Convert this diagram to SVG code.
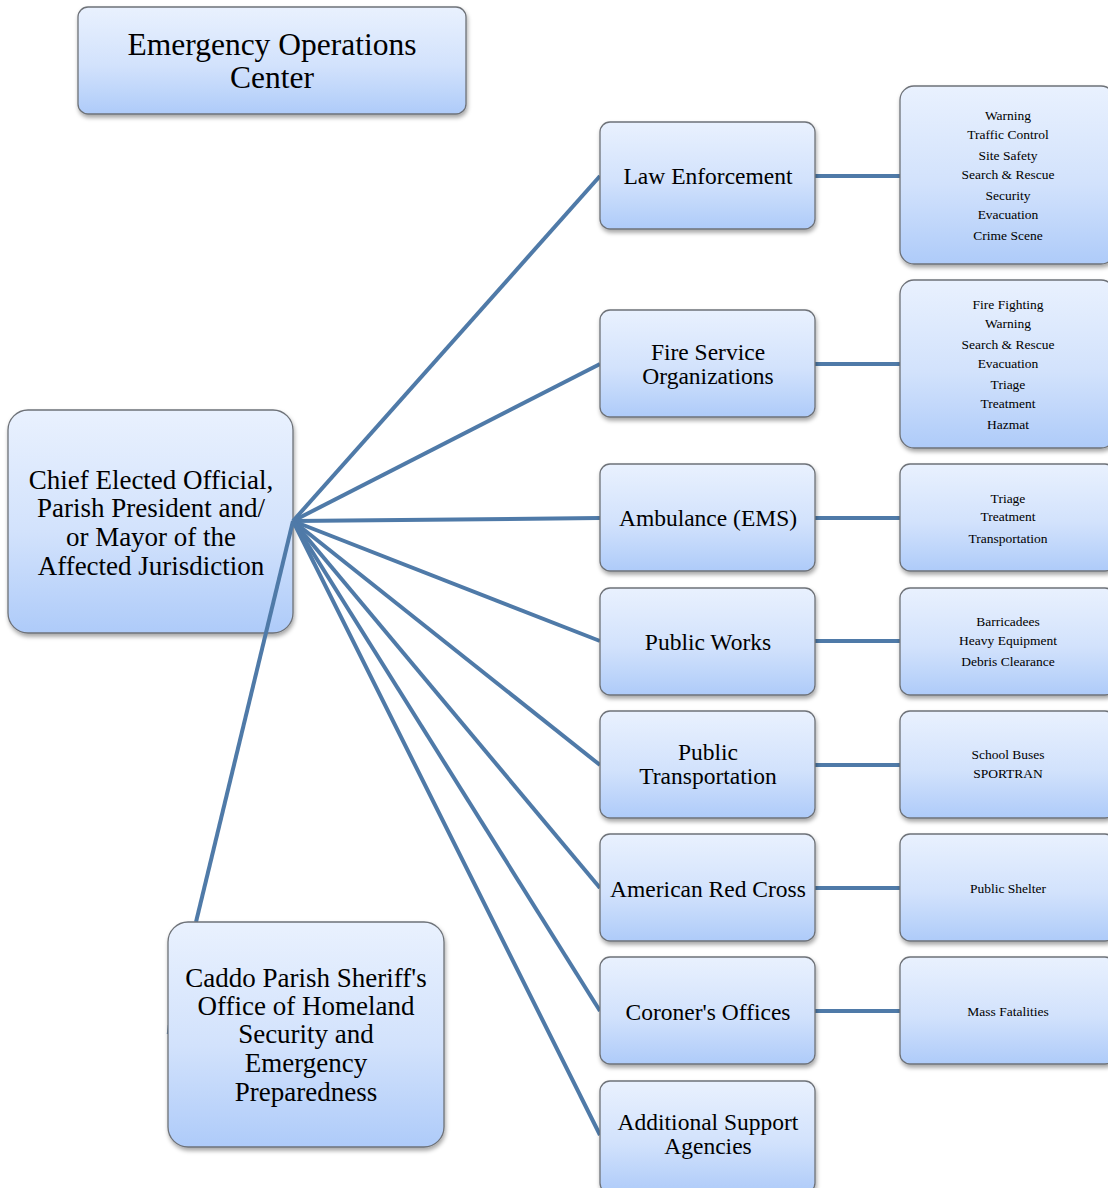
<svg xmlns="http://www.w3.org/2000/svg" width="1108" height="1188" viewBox="0 0 1108 1188">
  <defs>
    <linearGradient id="boxFill" x1="0" y1="0" x2="0" y2="1">
      <stop offset="0" stop-color="#e9f1fe"/>
      <stop offset="0.55" stop-color="#d2e2fc"/>
      <stop offset="1" stop-color="#aecbf9"/>
    </linearGradient>
    <filter id="shadow" x="-10%" y="-10%" width="125%" height="130%">
      <feDropShadow dx="1" dy="3" stdDeviation="2" flood-color="#000" flood-opacity="0.35"/>
    </filter>
  </defs>
  <style>
    .box { fill: url(#boxFill); stroke: #6e7278; stroke-width: 1.3; filter: url(#shadow); }
    .link { stroke: #4f7aa8; stroke-width: 4; fill: none; stroke-linecap: butt; }
    text { font-family: "Liberation Serif", "Times New Roman", serif; fill: #000; text-anchor: middle; }
    .t-eoc { font-size: 31.5px; }
    .t-big { font-size: 27px; }
    .t-mid { font-size: 23.5px; }
    .t-sm { font-size: 13.5px; }
  </style>

  <rect width="1108" height="1188" fill="#ffffff"/>

  <!-- the chief box sits under the spokes that leave its right edge -->
  <g id="chief-elected">
    <rect class="box" x="8" y="410" width="285" height="223" rx="20"/>
    <text class="t-big" x="151" y="489">Chief Elected Official,</text>
    <text class="t-big" x="151" y="517">Parish President and/</text>
    <text class="t-big" x="151" y="546">or Mayor of the</text>
    <text class="t-big" x="151" y="575">Affected Jurisdiction</text>
  </g>

  <!-- connectors -->
  <g id="connectors">
    <line class="link" x1="293" y1="521" x2="600" y2="176"/>
    <line class="link" x1="293" y1="521" x2="600" y2="364"/>
    <line class="link" x1="293" y1="521" x2="600" y2="518"/>
    <line class="link" x1="293" y1="521" x2="600" y2="641"/>
    <line class="link" x1="293" y1="521" x2="600" y2="765"/>
    <line class="link" x1="293" y1="521" x2="600" y2="888"/>
    <line class="link" x1="293" y1="521" x2="600" y2="1011"/>
    <line class="link" x1="293" y1="521" x2="600" y2="1135"/>
    <line class="link" x1="293" y1="521" x2="196" y2="922"/>
    <line class="link" x1="167.5" y1="1034" x2="168.5" y2="1025" style="stroke-width:1.5"/>
    <line class="link" x1="815" y1="176" x2="900" y2="176"/>
    <line class="link" x1="815" y1="364" x2="900" y2="364"/>
    <line class="link" x1="815" y1="518" x2="900" y2="518"/>
    <line class="link" x1="815" y1="641" x2="900" y2="641"/>
    <line class="link" x1="815" y1="765" x2="900" y2="765"/>
    <line class="link" x1="815" y1="888" x2="900" y2="888"/>
    <line class="link" x1="815" y1="1011" x2="900" y2="1011"/>
  </g>

  <!-- top-level nodes -->
  <g id="eoc">
    <rect class="box" x="78" y="7" width="388" height="107" rx="10"/>
    <text class="t-eoc" x="272" y="55">Emergency Operations</text>
    <text class="t-eoc" x="272" y="87.5">Center</text>
  </g>

  <g id="caddo-ohsep">
    <rect class="box" x="168" y="922" width="276" height="225" rx="20"/>
    <text class="t-big" x="306" y="987">Caddo Parish Sheriff's</text>
    <text class="t-big" x="306" y="1014.5">Office of Homeland</text>
    <text class="t-big" x="306" y="1043">Security and</text>
    <text class="t-big" x="306" y="1072">Emergency</text>
    <text class="t-big" x="306" y="1101">Preparedness</text>
  </g>

  <!-- agencies -->
  <g id="law-enforcement">
    <rect class="box" x="600" y="122" width="215" height="107" rx="10"/>
    <text class="t-mid" x="708" y="184">Law Enforcement</text>
  </g>
  <g id="fire-service">
    <rect class="box" x="600" y="310" width="215" height="107" rx="10"/>
    <text class="t-mid" x="708" y="359.5">Fire Service</text>
    <text class="t-mid" x="708" y="384">Organizations</text>
  </g>
  <g id="ambulance">
    <rect class="box" x="600" y="464" width="215" height="107" rx="10"/>
    <text class="t-mid" x="708" y="526">Ambulance (EMS)</text>
  </g>
  <g id="public-works">
    <rect class="box" x="600" y="588" width="215" height="107" rx="10"/>
    <text class="t-mid" x="708" y="650">Public Works</text>
  </g>
  <g id="public-transportation">
    <rect class="box" x="600" y="711" width="215" height="107" rx="10"/>
    <text class="t-mid" x="708" y="759.5">Public</text>
    <text class="t-mid" x="708" y="784">Transportation</text>
  </g>
  <g id="red-cross">
    <rect class="box" x="600" y="834" width="215" height="107" rx="10"/>
    <text class="t-mid" x="708" y="897">American Red Cross</text>
  </g>
  <g id="coroner">
    <rect class="box" x="600" y="957" width="215" height="107" rx="10"/>
    <text class="t-mid" x="708" y="1020">Coroner's Offices</text>
  </g>
  <g id="additional-support">
    <rect class="box" x="600" y="1081" width="215" height="112" rx="10"/>
    <text class="t-mid" x="708" y="1129.5">Additional Support</text>
    <text class="t-mid" x="708" y="1154">Agencies</text>
  </g>

  <!-- functions -->
  <g id="law-functions">
    <rect class="box" x="900" y="86" width="215" height="178" rx="14"/>
    <text class="t-sm" x="1008" y="120">Warning</text>
    <text class="t-sm" x="1008" y="139">Traffic Control</text>
    <text class="t-sm" x="1008" y="160">Site Safety</text>
    <text class="t-sm" x="1008" y="179">Search &amp; Rescue</text>
    <text class="t-sm" x="1008" y="200">Security</text>
    <text class="t-sm" x="1008" y="219">Evacuation</text>
    <text class="t-sm" x="1008" y="240">Crime Scene</text>
  </g>
  <g id="fire-functions">
    <rect class="box" x="900" y="280" width="215" height="168" rx="14"/>
    <text class="t-sm" x="1008" y="309">Fire Fighting</text>
    <text class="t-sm" x="1008" y="328">Warning</text>
    <text class="t-sm" x="1008" y="349">Search &amp; Rescue</text>
    <text class="t-sm" x="1008" y="368">Evacuation</text>
    <text class="t-sm" x="1008" y="389">Triage</text>
    <text class="t-sm" x="1008" y="408">Treatment</text>
    <text class="t-sm" x="1008" y="429">Hazmat</text>
  </g>
  <g id="ems-functions">
    <rect class="box" x="900" y="464" width="215" height="107" rx="10"/>
    <text class="t-sm" x="1008" y="503">Triage</text>
    <text class="t-sm" x="1008" y="521">Treatment</text>
    <text class="t-sm" x="1008" y="543">Transportation</text>
  </g>
  <g id="works-functions">
    <rect class="box" x="900" y="588" width="215" height="107" rx="10"/>
    <text class="t-sm" x="1008" y="626">Barricadees</text>
    <text class="t-sm" x="1008" y="645">Heavy Equipment</text>
    <text class="t-sm" x="1008" y="666">Debris Clearance</text>
  </g>
  <g id="transport-functions">
    <rect class="box" x="900" y="711" width="215" height="107" rx="10"/>
    <text class="t-sm" x="1008" y="759">School Buses</text>
    <text class="t-sm" x="1008" y="778">SPORTRAN</text>
  </g>
  <g id="red-cross-functions">
    <rect class="box" x="900" y="834" width="215" height="107" rx="10"/>
    <text class="t-sm" x="1008" y="893">Public Shelter</text>
  </g>
  <g id="coroner-functions">
    <rect class="box" x="900" y="957" width="215" height="107" rx="10"/>
    <text class="t-sm" x="1008" y="1016">Mass Fatalities</text>
  </g>
</svg>
